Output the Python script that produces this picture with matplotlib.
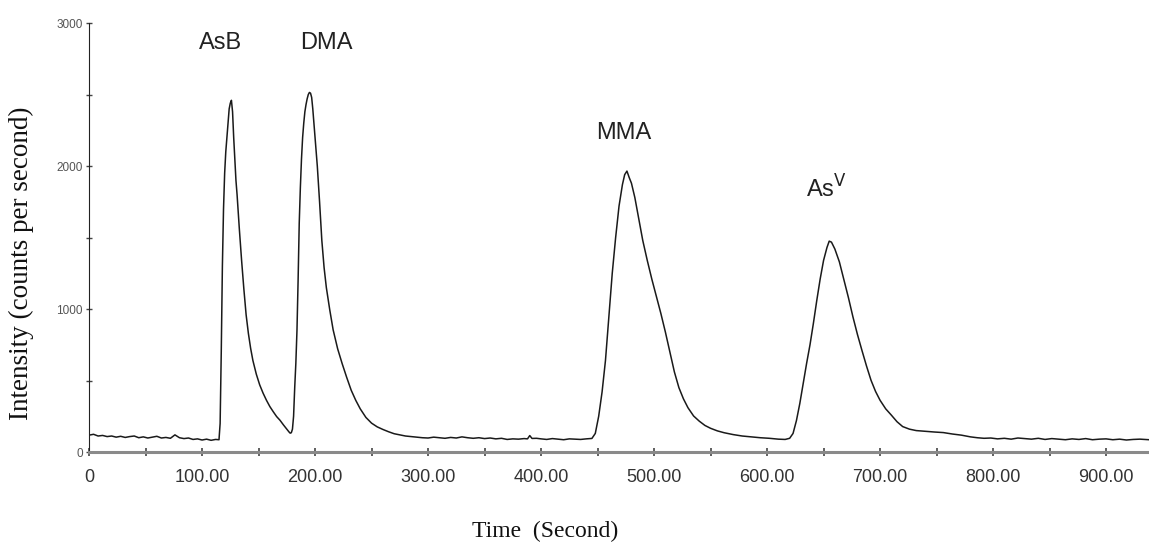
import matplotlib.pyplot as plt
from matplotlib.ticker import MultipleLocator, FixedLocator

# chromatogram trace (time in s, counts per second)
time = [0, 4, 8, 12, 16, 20, 24, 28, 32, 36, 40, 44, 48, 52, 56, 60, 64, 68, 72, 76,
        80, 84, 88, 92, 96, 100, 104, 108, 112, 115,
        116, 117, 118, 119, 120, 121, 122, 123, 124, 125, 126, 127, 128, 129, 130, 131,
        133, 135, 137, 139, 141, 143, 145, 148, 151, 154, 157, 160, 163, 166, 169, 172,
        175, 177, 178, 179, 180, 181, 182, 183, 184, 185, 186, 187, 188, 189, 190, 191,
        192, 193, 194, 195, 196, 197, 198, 199, 200, 202, 204, 206, 208, 210, 213, 216,
        220, 224, 228, 232, 236, 240, 245, 250, 255, 260, 265, 270, 275, 280, 285, 290,
        295, 300, 305, 310, 315, 320, 325, 330, 335, 340, 345, 350, 355, 360, 365, 370,
        375, 380, 385, 388, 390, 392, 396, 400, 405, 410, 415, 420, 425, 430, 435, 440,
        445, 448, 451, 454, 457, 460, 463, 466, 469, 472, 474, 476, 478, 480, 483, 486,
        490, 494, 498, 502, 506, 510, 514, 518, 522, 526, 530, 535, 540, 545, 550, 556,
        562, 570, 578, 586, 594, 602, 610, 616, 620, 623, 626, 629, 632, 635, 638, 641,
        644, 647, 650, 653, 655, 657, 660, 664, 668, 672, 676, 680, 684, 688, 692, 696,
        700, 705, 710, 715, 720, 726, 732, 740, 748, 756, 764, 772, 780, 786, 792, 798,
        804, 810, 816, 822, 828, 834, 840, 846, 852, 858, 864, 870, 876, 882, 888, 894,
        900, 906, 912, 918, 924, 930, 938]
intensity = [118, 124, 112, 116, 108, 112, 104, 110, 102, 108, 112, 100, 106, 98, 104, 110, 98, 102, 96, 120,
             100, 94, 98, 88, 92, 84, 90, 82, 88, 86,
             200, 700, 1300, 1700, 1950, 2100, 2200, 2300, 2400, 2440, 2460, 2380, 2200, 2050, 1900, 1800,
             1560, 1340, 1140, 960, 830, 725, 640, 545, 470, 412, 362, 318, 282, 248, 222, 190,
             160, 140, 132, 135, 160, 250, 450, 620, 850, 1200, 1600, 1850, 2050, 2200, 2300, 2380,
             2430, 2470, 2500, 2515, 2510, 2480, 2400, 2300, 2200, 2000, 1750, 1480, 1290, 1150, 995, 855,
             722, 618, 522, 432, 362, 302, 242, 202, 176, 158, 142, 128, 120, 112, 108, 104,
             100, 98, 104, 100, 96, 102, 98, 106, 100, 96, 100, 94, 98, 92, 96, 88,
             92, 90, 94, 92, 115, 95, 96, 92, 88, 94, 90, 86, 92, 90, 88, 92,
             95, 130, 250, 420, 640, 950, 1250, 1500, 1720, 1870, 1940, 1965, 1920, 1880, 1780, 1650,
             1480, 1340, 1210, 1090, 970, 840, 700, 560, 450, 372, 310, 252, 216, 186, 166, 148,
             135, 122, 112, 106, 100, 96, 90, 88, 96, 130, 220, 340, 480, 620, 750, 900,
             1060, 1210, 1340, 1430, 1475, 1468, 1420, 1330, 1205, 1080, 945, 822, 710, 602, 502, 424,
             362, 302, 258, 212, 178, 160, 150, 145, 140, 136, 126, 118, 106, 100, 96, 98,
             92, 96, 90, 98, 94, 90, 96, 88, 94, 90, 86, 92, 88, 94, 86, 90,
             92, 86, 90, 84, 88, 90, 86]

peak_names = ['AsB', 'DMA', 'MMA', 'As$^{\\mathrm{V}}$']
peak_label_x = [116, 210, 473, 653]
peak_label_y = [2860, 2860, 2230, 1840]

x_ticks = [0, 100, 200, 300, 400, 500, 600, 700, 800, 900]
x_tick_labels = ['0', '100.00', '200.00', '300.00', '400.00', '500.00',
                 '600.00', '700.00', '800.00', '900.00']
y_ticks = [0, 1000, 2000, 3000]

fig = plt.figure(figsize=(11.49, 5.45), dpi=100)
ax = fig.add_axes([0.0775, 0.1706, 0.9225, 0.787])

ax.plot(time, intensity, color='#1a1a1a', linewidth=1.1)

for name, lx, ly in zip(peak_names, peak_label_x, peak_label_y):
    ax.text(lx, ly, name, fontsize=17, family='Liberation Sans', color='#222222',
            ha='center', va='center')

ax.set_xlim(0, 938)
ax.set_ylim(0, 3000)

ax.spines['top'].set_visible(False)
ax.spines['right'].set_visible(False)
ax.spines['left'].set_color('#222222')
ax.spines['left'].set_linewidth(0.8)
ax.spines['bottom'].set_color('#8a8a8a')
ax.spines['bottom'].set_linewidth(2.2)

ax.set_xticks(x_ticks)
ax.set_xticklabels(x_tick_labels, family='Liberation Sans', fontsize=13, color='#333333')
ax.xaxis.set_minor_locator(FixedLocator([50, 150, 250, 350, 450, 550, 650, 750, 850]))
ax.tick_params(axis='x', which='both', direction='inout', length=6, width=1.2,
               color='#444444', pad=9)

ax.set_yticks(y_ticks)
ax.set_yticklabels([str(v) for v in y_ticks], family='Liberation Sans', fontsize=8.5,
                   color='#555555')
ax.yaxis.set_minor_locator(MultipleLocator(500))
ax.tick_params(axis='y', which='both', direction='inout', length=5, width=1.0,
               color='#444444', pad=2)

ax.set_xlabel('Time  (Second)', family='Liberation Serif', fontsize=17, labelpad=22,
              color='#111111')
ax.xaxis.set_label_coords(0.43, -0.16)
ax.set_ylabel('Intensity (counts per second)', family='Liberation Serif', fontsize=19.5,
              color='#111111')
ax.yaxis.set_label_coords(-0.052, 0.44)

fig.savefig('out.png', dpi=100)
